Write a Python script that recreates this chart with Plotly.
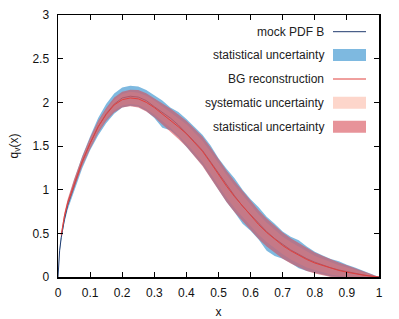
import plotly.graph_objects as go

# ---- data ----
x_grid = [0, 0.005, 0.01, 0.02, 0.03, 0.05, 0.075, 0.1, 0.125, 0.15, 0.175, 0.2, 0.225, 0.25,
          0.275, 0.3, 0.325, 0.35, 0.375, 0.4, 0.425, 0.45, 0.475, 0.5, 0.525, 0.55, 0.575, 0.6,
          0.625, 0.65, 0.675, 0.7, 0.725, 0.75, 0.775, 0.8, 0.825, 0.85, 0.875, 0.9, 0.925, 0.95,
          0.975, 1.0]

mock_pdf_b = [0, 0.30, 0.45, 0.66, 0.82, 1.05, 1.31, 1.53, 1.72, 1.87, 1.98, 2.05, 2.07, 2.06,
              2.02, 1.95, 1.89, 1.82, 1.74, 1.65, 1.55, 1.45, 1.32, 1.18, 1.05, 0.93, 0.81, 0.71,
              0.61, 0.52, 0.44, 0.37, 0.31, 0.26, 0.21, 0.17, 0.135, 0.105, 0.08, 0.06, 0.04, 0.025,
              0.01, 0]
mock_stat_up = [0, 0.02, 0.03, 0.04, 0.05, 0.06, 0.07, 0.08, 0.10, 0.11, 0.12, 0.12, 0.12, 0.12,
                0.12, 0.13, 0.13, 0.12, 0.15, 0.16, 0.17, 0.18, 0.19, 0.18, 0.19, 0.20, 0.19, 0.18,
                0.19, 0.17, 0.17, 0.15, 0.15, 0.16, 0.14, 0.12, 0.11, 0.10, 0.10, 0.08, 0.07, 0.05,
                0.03, 0]
mock_stat_dn = [0, 0.02, 0.03, 0.04, 0.05, 0.06, 0.07, 0.08, 0.10, 0.11, 0.11, 0.11, 0.11, 0.11,
                0.12, 0.13, 0.18, 0.14, 0.14, 0.16, 0.17, 0.17, 0.18, 0.18, 0.19, 0.19, 0.20, 0.18,
                0.18, 0.22, 0.20, 0.16, 0.15, 0.16, 0.14, 0.12, 0.11, 0.10, 0.08, 0.07, 0.06, 0.04,
                0.02, 0]

x_bg = x_grid[2:]
bg_reco = [0.48, 0.70, 0.85, 1.07, 1.32, 1.53, 1.72, 1.86, 1.97, 2.03, 2.05, 2.04, 2.00, 1.94,
           1.87, 1.80, 1.72, 1.64, 1.54, 1.44, 1.31, 1.17, 1.04, 0.92, 0.81, 0.70, 0.60, 0.51,
           0.43, 0.36, 0.30, 0.25, 0.20, 0.16, 0.13, 0.10, 0.075, 0.055, 0.037, 0.022, 0.01, 0]
bg_stat = [0.03, 0.035, 0.04, 0.05, 0.055, 0.065, 0.07, 0.075, 0.085, 0.09, 0.095, 0.10, 0.105,
           0.11, 0.12, 0.13, 0.14, 0.15, 0.16, 0.17, 0.175, 0.18, 0.18, 0.18, 0.175, 0.17,
           0.165, 0.16, 0.155, 0.15, 0.145, 0.14, 0.13, 0.12, 0.11, 0.10, 0.09, 0.08, 0.065,
           0.05, 0.03, 0]
bg_sys = [0.02, 0.025, 0.03, 0.035, 0.04, 0.045, 0.05, 0.055, 0.06, 0.065, 0.07, 0.07, 0.075,
          0.08, 0.085, 0.09, 0.10, 0.11, 0.115, 0.12, 0.125, 0.13, 0.13, 0.13, 0.125, 0.12,
          0.115, 0.11, 0.105, 0.10, 0.10, 0.095, 0.09, 0.08, 0.075, 0.07, 0.06, 0.055, 0.045,
          0.035, 0.02, 0]

legend_labels = ["mock PDF B", "statistical uncertainty", "BG reconstruction",
                 "systematic uncertainty", "statistical uncertainty"]

x_ticks = [0, 0.1, 0.2, 0.3, 0.4, 0.5, 0.6, 0.7, 0.8, 0.9, 1]
y_ticks = [0, 0.5, 1, 1.5, 2, 2.5, 3]

# ---- styles ----
BLUE_FILL = "rgba(90,165,215,0.78)"
RED_FILL = "rgba(215,75,85,0.6)"
SYS_FILL = "rgba(252,200,185,0.35)"
SYS_LEG = "rgba(252,200,185,0.75)"
RED_LINE = "#e0403c"
NAVY = "#203a6e"
FONT = "Liberation Sans, Arial, sans-serif"

fig = go.Figure()

def band(x, c, up, dn, color):
    lo = [max(0.0, ci - d) for ci, d in zip(c, dn)]
    hi = [ci + u for ci, u in zip(c, up)]
    fig.add_trace(go.Scatter(x=x, y=lo, mode="lines", line=dict(width=0),
                             hoverinfo="skip", showlegend=False))
    fig.add_trace(go.Scatter(x=x, y=hi, mode="lines", line=dict(width=0), fill="tonexty",
                             fillcolor=color, hoverinfo="skip", showlegend=False))

band(x_grid, mock_pdf_b, mock_stat_up, mock_stat_dn, BLUE_FILL)
fig.add_trace(go.Scatter(x=x_grid, y=mock_pdf_b, mode="lines", line=dict(color=NAVY, width=1),
                         showlegend=False))
band(x_bg, bg_reco, bg_sys, bg_sys, SYS_FILL)
band(x_bg, bg_reco, bg_stat, bg_stat, RED_FILL)
fig.add_trace(go.Scatter(x=x_bg, y=bg_reco, mode="lines", line=dict(color=RED_LINE, width=1),
                         showlegend=False))

# ---- manual legend (text left of swatch, like gnuplot) ----
W, H = 399, 319
L, R, T, B = 58, 20, 15, 42
pw, ph = W - L - R, H - T - B

def px2paper(px, py):
    return (px - L) / pw, 1 - (py - T) / ph

legend_y = [31.7, 55, 79, 102.7, 126.7]
kinds = [("line", NAVY), ("box", BLUE_FILL), ("line", RED_LINE), ("box", SYS_LEG), ("box", RED_FILL)]
for lab, py, (kind, col) in zip(legend_labels, legend_y, kinds):
    tx, ty = px2paper(326, py)
    fig.add_annotation(x=tx, y=ty, xref="paper", yref="paper", text=lab, showarrow=False,
                       xanchor="right", yanchor="middle", font=dict(family=FONT, size=12, color="#222"))
    x0, _ = px2paper(333, py)
    x1, _ = px2paper(366, py)
    if kind == "line":
        fig.add_shape(type="line", xref="paper", yref="paper", x0=x0, x1=x1, y0=ty, y1=ty,
                      line=dict(color=col, width=1))
    else:
        _, y0 = px2paper(0, py - 6)
        _, y1 = px2paper(0, py + 6)
        fig.add_shape(type="rect", xref="paper", yref="paper", x0=x0, x1=x1, y0=y1, y1=y0,
                      line=dict(width=0), fillcolor=col)

axis_common = dict(showgrid=False, zeroline=False, showline=True, linecolor="black", linewidth=1.5,
                   mirror="ticks", ticks="inside", ticklen=5, tickwidth=1, tickcolor="black",
                   automargin=False, tickfont=dict(family=FONT, size=12, color="#111"))
fig.update_xaxes(range=[0, 1], tickvals=x_ticks, ticktext=[f"{v:g}" for v in x_ticks],
                 ticklabelstandoff=4,
                 title=dict(text="x", font=dict(family=FONT, size=12, color="#111"), standoff=10),
                 **axis_common)
fig.update_yaxes(range=[0, 3], tickvals=y_ticks, ticktext=[f"{v:g}" for v in y_ticks],
                 ticklabelstandoff=5,
                 title=dict(text="q<sub>v</sub>(x)", font=dict(family=FONT, size=12, color="#111"),
                            standoff=11),
                 **axis_common)

fig.update_layout(width=W, height=H, margin=dict(l=L, r=R, t=T, b=B, pad=0),
                  plot_bgcolor="white", paper_bgcolor="white", showlegend=False,
                  font=dict(family=FONT, size=12))

fig.write_html("out.html", config={"displayModeBar": False, "staticPlot": True},
               post_script="document.body.style.margin='0';document.body.style.overflow='hidden';")
